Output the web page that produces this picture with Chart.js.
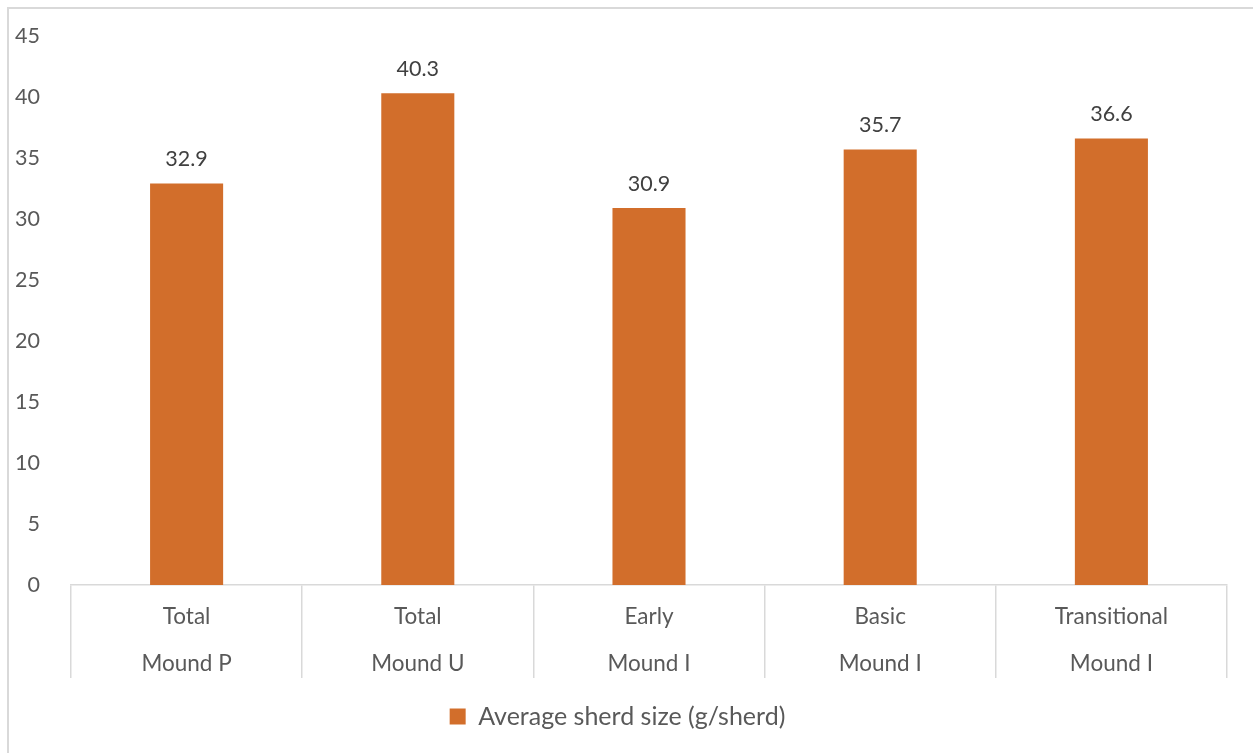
<!DOCTYPE html>
<html>
<head>
<meta charset="utf-8">
<script src="https://cdn.jsdelivr.net/npm/chart.js@4"></script>
<style>
	html, body { margin: 0; padding: 0; background: #fff; }
	#frame {
		position: absolute; left: 7px; top: 7px; width: 1250px; height: 750px;
		border-top: 2px solid #d9d9d9; border-left: 2px solid #d9d9d9;
	}
	#wrap { position: absolute; left: 0; top: 0; width: 1253px; height: 753px; }
</style>
</head>
<body>
<div id="frame"></div>
<div id="wrap"><canvas id="chart"></canvas></div>
<script>
const categories = [
	['Total', 'Mound P'],
	['Total', 'Mound U'],
	['Early', 'Mound I'],
	['Basic', 'Mound I'],
	['Transitional', 'Mound I'],
]
const sherdSize = [32.9, 40.3, 30.9, 35.7, 36.6]
const seriesLabel = 'Average sherd size (g/sherd)'

const FONT = 'Lato'
const barColor = '#D26E2B'

// value labels above each bar
const valueLabels = {
	id: 'valueLabels',
	afterDatasetsDraw(chart) {
		const { ctx } = chart
		const meta = chart.getDatasetMeta(0)
		ctx.save()
		ctx.font = '21.5px ' + FONT
		ctx.fillStyle = '#404040'
		ctx.textAlign = 'center'
		ctx.textBaseline = 'middle'
		meta.data.forEach((bar, i) => {
			ctx.fillText(chart.data.datasets[0].data[i].toFixed(1), bar.x, bar.y - 24)
		})
		ctx.restore()
	}
}

const createChart = (elem) => {
	return new Chart(elem, {
		type: 'bar',
		data: {
			labels: categories,
			datasets: [
				{
					label: seriesLabel,
					data: sherdSize,
					backgroundColor: barColor,
					borderWidth: 0,
					barPercentage: 0.316,
					categoryPercentage: 1,
				},
			]
		},
		options: {
			responsive: false,
			animation: false,
			layout: { padding: { left: 8, right: 26, top: 35, bottom: 14 } },
			scales: {
				x: {
					grid: {
						offset: true,
						drawOnChartArea: false,
						tickLength: 93,
						color: '#d9d9d9',
						lineWidth: 1.5,
					},
					border: { color: '#d9d9d9', width: 1.5 },
					ticks: {
						padding: -84.5,
						color: '#595959',
						font: { family: FONT, size: 22.5, lineHeight: 47 / 22.5 },
						maxRotation: 0,
					},
					afterFit(scale) { scale.height = 112 },
				},
				y: {
					min: 0,
					max: 45,
					grid: { display: false },
					border: { display: false },
					ticks: {
						stepSize: 5,
						padding: 23,
						color: '#595959',
						font: { family: FONT, size: 21.5 },
					},
					afterFit(scale) { scale.width = 63 },
				}
			},
			plugins: {
				legend: {
					position: 'bottom',
					labels: {
						boxWidth: 16,
						boxHeight: 16,
						padding: 7,
						color: '#595959',
						font: { family: FONT, size: 25 },
					}
				},
				tooltip: { enabled: false },
			}
		},
		plugins: [valueLabels],
	})
}

const canvas = document.getElementById('chart')
canvas.width = 1253
canvas.height = 753
createChart(canvas)
</script>
</body>
</html>
